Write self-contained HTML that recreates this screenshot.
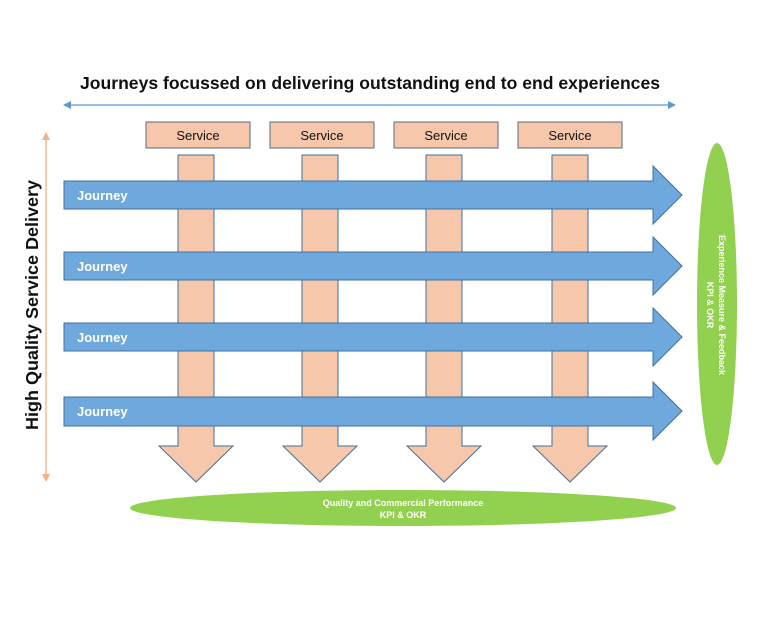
<!DOCTYPE html>
<html><head><meta charset="utf-8"><style>body{margin:0;background:#fff}svg{display:block}</style></head><body>
<svg width="768" height="630" xmlns="http://www.w3.org/2000/svg" font-family="Liberation Sans, sans-serif">
<defs>
<marker id="ba" markerWidth="8" markerHeight="8" refX="7" refY="4" orient="auto-start-reverse" markerUnits="userSpaceOnUse"><path d="M0,0 L8,4 L0,8 z" fill="#5b9bd5"/></marker>
<marker id="oa" markerWidth="8" markerHeight="8" refX="7" refY="4" orient="auto-start-reverse" markerUnits="userSpaceOnUse"><path d="M0,0 L8,4 L0,8 z" fill="#f4b183"/></marker>
</defs>
<text x="80" y="89" textLength="580" lengthAdjust="spacingAndGlyphs" font-size="17.5" font-weight="bold" fill="#111">Journeys focussed on delivering outstanding end to end experiences</text>
<line x1="64" y1="105" x2="675" y2="105" stroke="#5b9bd5" stroke-width="1.3" marker-start="url(#ba)" marker-end="url(#ba)"/>
<line x1="46" y1="133" x2="46" y2="481" stroke="#f4b183" stroke-width="1.3" marker-start="url(#oa)" marker-end="url(#oa)"/>
<text transform="translate(38,305) rotate(-90)" x="-125" textLength="250" lengthAdjust="spacingAndGlyphs" font-size="17.5" font-weight="bold" fill="#111">High Quality  Service Delivery</text>
<g fill="#f6c7aa" stroke="#596a7a" stroke-width="1">
<rect x="146" y="122" width="104" height="26"/>
<rect x="270" y="122" width="104" height="26"/>
<rect x="394" y="122" width="104" height="26"/>
<rect x="518" y="122" width="104" height="26"/>
</g>
<g font-size="13" fill="#111" text-anchor="middle">
<text x="198" y="140">Service</text><text x="322" y="140">Service</text><text x="446" y="140">Service</text><text x="570" y="140">Service</text>
</g>
<g fill="#f6c7aa" stroke="#41719c" stroke-width="1">
<path d="M178,155 H214 V446 H233 L196,482 L159,446 H178 Z"/>
<path d="M302,155 H338 V446 H357 L320,482 L283,446 H302 Z"/>
<path d="M426,155 H462 V446 H481 L444,482 L407,446 H426 Z"/>
<path d="M552,155 H588 V446 H607 L570,482 L533,446 H552 Z"/>
</g>
<g fill="#6fa8dc" stroke="#41719c" stroke-width="1">
<path d="M64,181 H653 V166 L682,195 L653,224 V209 H64 Z"/>
<path d="M64,252 H653 V237 L682,266 L653,295 V280 H64 Z"/>
<path d="M64,323 H653 V308 L682,337 L653,366 V351 H64 Z"/>
<path d="M64,397 H653 V382 L682,411 L653,440 V426 H64 Z"/>
</g>
<g font-size="13" font-weight="bold" fill="#fff">
<text x="77" y="200">Journey</text><text x="77" y="271">Journey</text><text x="77" y="342">Journey</text><text x="77" y="416">Journey</text>
</g>
<ellipse cx="717" cy="304" rx="20" ry="161" fill="#92d050"/>
<text transform="translate(717,305) rotate(90)" text-anchor="middle" font-size="9" font-weight="bold" fill="#fff"><tspan x="0" y="-2">Experience Measure &amp; Feedback</tspan><tspan x="0" y="10">KPI &amp; OKR</tspan></text>
<ellipse cx="403" cy="508" rx="273" ry="18" fill="#92d050"/>
<text text-anchor="middle" font-size="9" font-weight="bold" fill="#fff"><tspan x="403" y="506">Quality and Commercial Performance</tspan><tspan x="403" y="518">KPI &amp; OKR</tspan></text>
</svg>
</body></html>
